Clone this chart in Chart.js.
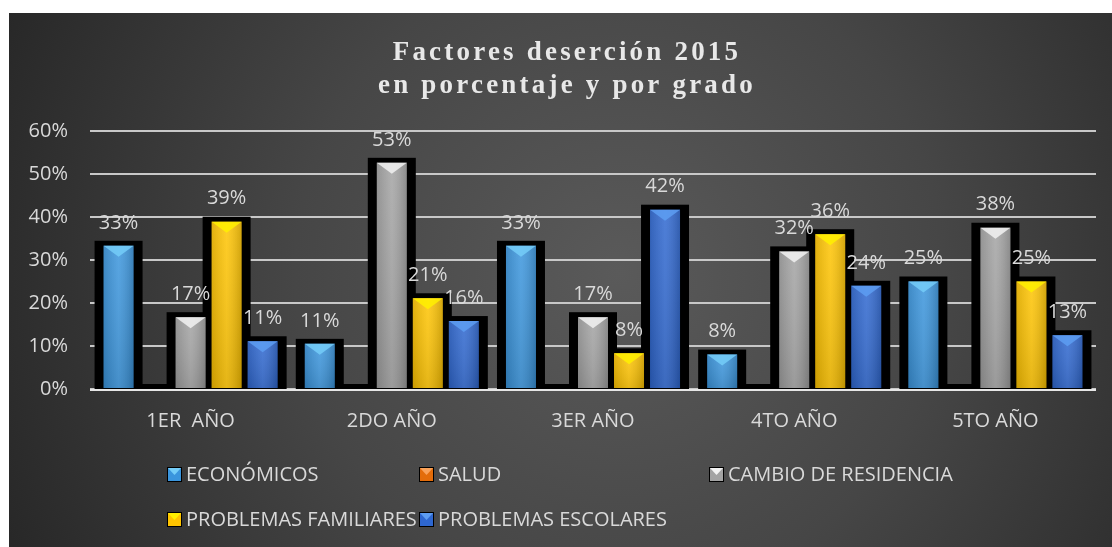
<!DOCTYPE html>
<html><head><meta charset="utf-8">
<script src="https://cdn.jsdelivr.net/npm/chart.js@4/dist/chart.umd.min.js"></script>
<style>
html,body{margin:0;padding:0;background:#fff;width:1112px;height:547px;overflow:hidden;}
#wrap{position:absolute;left:9px;top:13px;width:1103px;height:534px;}
</style>
</head><body><div id="wrap"><canvas id="c"></canvas></div>
<script>
const categories = ['1ER  AÑO','2DO AÑO','3ER AÑO','4TO AÑO','5TO AÑO'];
const seriesNames = ['ECONÓMICOS','SALUD','CAMBIO DE RESIDENCIA','PROBLEMAS FAMILIARES','PROBLEMAS ESCOLARES'];
const economicos = [33.3, 10.5, 33.3, 8.0, 25.0];
const salud = [0, 0, 0, 0, 0];
const cambioResidencia = [16.7, 52.6, 16.7, 32.0, 37.5];
const problemasFamiliares = [38.9, 21.1, 8.3, 36.0, 25.0];
const problemasEscolares = [11.1, 15.8, 41.7, 24.0, 12.5];
const yTickValues = [0, 10, 20, 30, 40, 50, 60];
const titleLines = ['Factores deserción 2015', 'en porcentaje y por grado'];

const baseColors = ['#3a95dd', '#e36c0a', '#a3a3a3', '#ffc400', '#2e67d0'];
const lightColors = ['#74cdf8', '#f9a25a', '#f2f2f2', '#fff000', '#5d9df2'];
const FONT = '"Open Sans", "Noto Sans", sans-serif';
const TEXT = '#d9d9d9';

const bgPlugin = {
  id: 'bg',
  beforeDraw(chart) {
    const {ctx, width, height} = chart;
    ctx.save();
    const g = ctx.createRadialGradient(610, 260, 0, 610, 260, 720);
    g.addColorStop(0, '#5a5a5a');
    g.addColorStop(0.45, '#464646');
    g.addColorStop(1, '#232323');
    ctx.fillStyle = g;
    ctx.fillRect(0, 0, width, height);
    // title
    ctx.fillStyle = '#e8e8e8';
    ctx.font = 'bold 27px "Liberation Serif", "DejaVu Serif", serif';
    ctx.textAlign = 'center';
    ctx.textBaseline = 'middle';
    try { ctx.letterSpacing = '3.2px'; } catch (e) {}
    ctx.fillText(titleLines[0], 558, 40.5);
    ctx.fillText(titleLines[1], 558, 73.5);
    try { ctx.letterSpacing = '0px'; } catch (e) {}
    ctx.restore();
  }
};

const outlinePlugin = {
  id: 'outline',
  beforeDatasetsDraw(chart) {
    const ctx = chart.ctx;
    ctx.save();
    ctx.fillStyle = '#000';
    chart.data.datasets.forEach((ds, i) => {
      const meta = chart.getDatasetMeta(i);
      meta.data.forEach(el => {
        const l = el.x - el.width / 2 - 9, r = el.x + el.width / 2 + 9;
        const t = Math.min(el.y, el.base) - 5;
        ctx.fillRect(l, t, r - l, el.base - t + 1);
      });
    });
    ctx.restore();
  },
  afterDatasetsDraw(chart) {
    const ctx = chart.ctx;
    const ys = chart.scales.y;
    ctx.save();
    chart.data.datasets.forEach((ds, i) => {
      const meta = chart.getDatasetMeta(i);
      meta.data.forEach((el, j) => {
        const v = ds.data[j];
        if (!(v > 0)) return;
        const l = el.x - el.width / 2, r = el.x + el.width / 2, t = el.y, b = el.base;
        const g = ctx.createLinearGradient(l, 0, r, 0);
        g.addColorStop(0, 'rgba(0,0,0,0.12)');
        g.addColorStop(0.5, 'rgba(255,255,255,0.10)');
        g.addColorStop(1, 'rgba(0,0,0,0.18)');
        ctx.fillStyle = g;
        ctx.fillRect(l, t, r - l, b - t);
        const gv = ctx.createLinearGradient(0, t, 0, b);
        gv.addColorStop(0, 'rgba(255,255,255,0.06)');
        gv.addColorStop(1, 'rgba(0,0,0,0.10)');
        ctx.fillStyle = gv;
        ctx.fillRect(l, t, r - l, b - t);
        const h = Math.min(11, (b - t) / 2);
        ctx.fillStyle = lightColors[i];
        ctx.globalAlpha = 0.85;
        ctx.beginPath();
        ctx.moveTo(l, t); ctx.lineTo(r, t); ctx.lineTo(el.x, t + h); ctx.closePath();
        ctx.fill();
        ctx.globalAlpha = 1;
      });
    });
    const y0 = ys.getPixelForValue(0) + 1;
    ctx.strokeStyle = '#e6e6e6';
    ctx.lineWidth = 2;
    ctx.beginPath();
    ctx.moveTo(chart.chartArea.left, y0);
    ctx.lineTo(chart.chartArea.right, y0);
    ctx.stroke();
    ctx.fillStyle = TEXT;
    ctx.font = '20px ' + FONT;
    ctx.textAlign = 'center';
    ctx.textBaseline = 'middle';
    chart.data.datasets.forEach((ds, i) => {
      const meta = chart.getDatasetMeta(i);
      meta.data.forEach((el, j) => {
        const v = ds.data[j];
        if (!(v > 0)) return;
        ctx.fillText(Math.round(v) + '%', el.x, el.y - 23);
      });
    });
    ctx.restore();
  },
  afterDraw(chart) {
    const ctx = chart.ctx;
    const cols = [158, 410, 700];
    const rows = [462, 507];
    const pos = [[0,0],[1,0],[2,0],[0,1],[1,1]];
    ctx.save();
    ctx.font = '20px ' + FONT;
    ctx.textBaseline = 'middle';
    ctx.textAlign = 'left';
    chart.data.datasets.forEach((ds, i) => {
      const x = cols[pos[i][0]], y = rows[pos[i][1]];
      ctx.fillStyle = '#000';
      ctx.fillRect(x, y - 8, 15, 15);
      ctx.fillStyle = baseColors[i];
      ctx.fillRect(x + 1, y - 7, 13, 13);
      ctx.fillStyle = lightColors[i];
      ctx.beginPath();
      ctx.moveTo(x + 1, y - 7); ctx.lineTo(x + 14, y - 7); ctx.lineTo(x + 7.5, y); ctx.closePath();
      ctx.fill();
      ctx.fillStyle = TEXT;
      ctx.fillText(ds.label, x + 19, y);
    });
    ctx.restore();
  }
};

const seriesData = [economicos, salud, cambioResidencia, problemasFamiliares, problemasEscolares];

new Chart(document.getElementById('c'), {
  type: 'bar',
  data: {
    labels: categories,
    datasets: seriesNames.map((name, i) => ({
      label: name,
      data: seriesData[i],
      backgroundColor: baseColors[i],
      borderWidth: 0,
      categoryPercentage: 0.895,
      barPercentage: 0.833
    }))
  },
  options: {
    responsive: true,
    maintainAspectRatio: false,
    animation: false,
    layout: { padding: { left: 0, top: 118, right: 16, bottom: 0 } },
    plugins: { legend: { display: false }, title: { display: false }, tooltip: { enabled: false } },
    scales: {
      x: {
        grid: { display: false },
        border: { display: false },
        ticks: { color: TEXT, font: { size: 20, family: FONT }, padding: 12, maxRotation: 0 },
        afterFit(s) { s.height = 158; }
      },
      y: {
        min: 0, max: 60,
        afterBuildTicks(s) { s.ticks = yTickValues.map(v => ({ value: v })); },
        grid: { color: '#c8c8c8', lineWidth: 2, drawTicks: false },
        border: { display: false },
        ticks: { color: TEXT, font: { size: 20, family: FONT }, padding: 22, callback: v => v + '%' },
        afterFit(s) { s.width = 81; }
      }
    }
  },
  plugins: [bgPlugin, outlinePlugin]
});
</script>
</body></html>
